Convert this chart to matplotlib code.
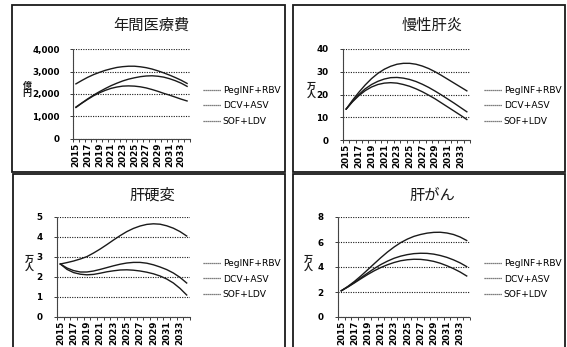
import matplotlib
matplotlib.use('Agg')
import matplotlib.pyplot as plt
from matplotlib.patches import Rectangle
from matplotlib.lines import Line2D
from matplotlib.ticker import FuncFormatter, MultipleLocator
import numpy as np

W, H = 567, 347

years = list(range(2015, 2035))
series_names = ['PegINF+RBV', 'DCV+ASV', 'SOF+LDV']

# 年間医療費 (億円)
cost_peg = [2450, 2600, 2740, 2860, 2960, 3050, 3120, 3180, 3215, 3235,
            3235, 3210, 3170, 3110, 3030, 2940, 2840, 2730, 2610, 2470]
cost_dcv = [1420, 1600, 1780, 1950, 2100, 2240, 2370, 2480, 2580, 2660,
            2720, 2770, 2800, 2810, 2790, 2750, 2680, 2590, 2480, 2340]
cost_sof = [1400, 1590, 1760, 1920, 2050, 2160, 2250, 2310, 2350, 2360,
            2350, 2320, 2270, 2200, 2120, 2030, 1950, 1860, 1770, 1690]

# 慢性肝炎 (万人)
ch_peg = [13.6, 17.5, 21.0, 24.2, 27.0, 29.3, 31.1, 32.4, 33.3, 33.7,
          33.7, 33.3, 32.5, 31.4, 30.0, 28.4, 26.7, 25.0, 23.3, 21.6]
ch_dcv = [13.6, 17.0, 20.0, 22.5, 24.4, 25.8, 26.8, 27.4, 27.5, 27.2,
          26.6, 25.7, 24.5, 23.1, 21.5, 19.8, 18.0, 16.2, 14.3, 12.4]
ch_sof = [13.6, 16.8, 19.5, 21.7, 23.3, 24.4, 25.0, 25.2, 25.0, 24.4,
          23.6, 22.5, 21.2, 19.7, 18.1, 16.3, 14.5, 12.7, 10.9, 9.0]

# 肝硬変 (万人)
lc_peg = [2.65, 2.72, 2.80, 2.90, 3.02, 3.20, 3.40, 3.62, 3.85, 4.07,
          4.27, 4.43, 4.55, 4.63, 4.66, 4.64, 4.56, 4.44, 4.27, 4.05]
lc_dcv = [2.65, 2.45, 2.32, 2.25, 2.25, 2.30, 2.38, 2.47, 2.56, 2.64,
          2.70, 2.73, 2.73, 2.69, 2.61, 2.50, 2.37, 2.20, 1.98, 1.70]
lc_sof = [2.65, 2.38, 2.22, 2.14, 2.11, 2.13, 2.19, 2.26, 2.31, 2.35,
          2.36, 2.34, 2.30, 2.24, 2.16, 2.05, 1.90, 1.70, 1.43, 1.10]

# 肝がん (万人)
hcc_peg = [2.10, 2.45, 2.85, 3.30, 3.78, 4.27, 4.75, 5.20, 5.60, 5.95,
           6.23, 6.45, 6.60, 6.71, 6.77, 6.78, 6.72, 6.60, 6.40, 6.12]
hcc_dcv = [2.10, 2.42, 2.77, 3.15, 3.52, 3.88, 4.20, 4.47, 4.70, 4.87,
           4.99, 5.07, 5.10, 5.09, 5.03, 4.92, 4.77, 4.57, 4.33, 4.03]
hcc_sof = [2.10, 2.40, 2.73, 3.07, 3.40, 3.70, 3.96, 4.18, 4.36, 4.50,
           4.58, 4.62, 4.61, 4.55, 4.45, 4.30, 4.10, 3.87, 3.60, 3.28]

JP = ['Noto Sans CJK JP', 'DejaVu Sans']
INK = '#1a1a1a'


def fx(x):
    return x / W


def fy(y):
    return 1 - y / H


def add_panel(fig, box, ax_px, title, title_y, ylabel, ylabel_x, data,
              ymax, ystep, fmt, legend_xy, ypad):
    # panel frame
    x0, y0, x1, y1 = box
    fig.add_artist(Rectangle((fx(x0), fy(y1)), fx(x1 - x0), (y1 - y0) / H,
                             transform=fig.transFigure, fill=False,
                             lw=1.3, edgecolor=INK))
    l, t, r, b = ax_px
    ax = fig.add_axes([fx(l), fy(b), fx(r - l), (b - t) / H])

    for vals, name in zip(data, series_names):
        ax.plot(years, vals, color=INK, lw=1.0, label=name)

    ax.set_xlim(2014.5, 2034.5)
    ax.set_ylim(0, ymax)
    ax.yaxis.set_major_locator(MultipleLocator(ystep))
    ax.yaxis.set_major_formatter(FuncFormatter(fmt))
    ax.set_xticks(years[::2])
    ax.set_xticklabels([str(y) for y in years[::2]], rotation=90,
                       fontsize=6.3, fontweight='bold')
    ax.set_xticks(np.arange(2014.5, 2035, 1), minor=True)
    ax.tick_params(axis='x', which='major', length=0, pad=2.5)
    ax.tick_params(axis='x', which='minor', length=2.5, width=0.6, color=INK)
    ax.tick_params(axis='y', length=2.5, width=0.6, color=INK, pad=ypad)
    for lab in ax.get_yticklabels():
        lab.set_fontsize(6.3)
        lab.set_fontweight('bold')

    ax.grid(axis='y', linestyle=(0, (1, 1.2)), color=INK, lw=0.8)
    for s in ['top', 'right']:
        ax.spines[s].set_visible(False)
    for s in ['left', 'bottom']:
        ax.spines[s].set_color('#444444')
        ax.spines[s].set_linewidth(0.8)
        ax.spines[s].set_linestyle((0, (1, 0.8)))
    ax.patch.set_alpha(0)

    # title and stacked unit label
    fig.text(fx((x0 + x1) / 2 + 3), fy(title_y), title, family=JP,
             fontsize=11, ha='center', va='center', color=INK)
    fig.text(fx(ylabel_x), fy((t + b) / 2 - 4), '\n'.join(ylabel), family=JP,
             fontsize=6.5, fontweight='bold', ha='center', va='center',
             linespacing=0.85, color=INK)

    handles = [Line2D([], [], color='#555555', lw=0.9, linestyle=(0, (1, 0.6)))
               for _ in series_names]
    ax.legend(handles, series_names, loc='center left',
              bbox_to_anchor=(fx(legend_xy[0]), fy(legend_xy[1])),
              bbox_transform=fig.transFigure, frameon=False, fontsize=6.6,
              handlelength=2.0, handletextpad=0.15, labelspacing=0.7,
              borderpad=0, borderaxespad=0)
    return ax


def main():
    fig = plt.figure(figsize=(W / 100, H / 100), dpi=100)
    fig.patch.set_facecolor('white')

    comma = lambda v, p: f'{int(v):,}'
    plain = lambda v, p: f'{int(v)}'

    add_panel(fig, (12, 5, 285, 172), (73, 49, 190, 139), '年間医療費', 25,
              '億円', 27, [cost_peg, cost_dcv, cost_sof], 4000, 1000, comma,
              (203, 106), 7)
    add_panel(fig, (293, 5, 565, 172), (343, 49, 470, 140), '慢性肝炎', 25,
              '万人', 311, [ch_peg, ch_dcv, ch_sof], 40, 10, plain,
              (484, 106), 8)
    add_panel(fig, (13, 174, 285, 352), (57, 217, 190, 317), '肝硬変', 195,
              '万人', 29, [lc_peg, lc_dcv, lc_sof], 5, 1, plain,
              (203, 279), 8)
    add_panel(fig, (293, 174, 565, 352), (338, 217, 470, 317), '肝がん', 195,
              '万人', 308, [hcc_peg, hcc_dcv, hcc_sof], 8, 2, plain,
              (484, 279), 8)

    fig.savefig('out.png', dpi=100)
    print("Saved out.png")


if __name__ == "__main__":
    main()
